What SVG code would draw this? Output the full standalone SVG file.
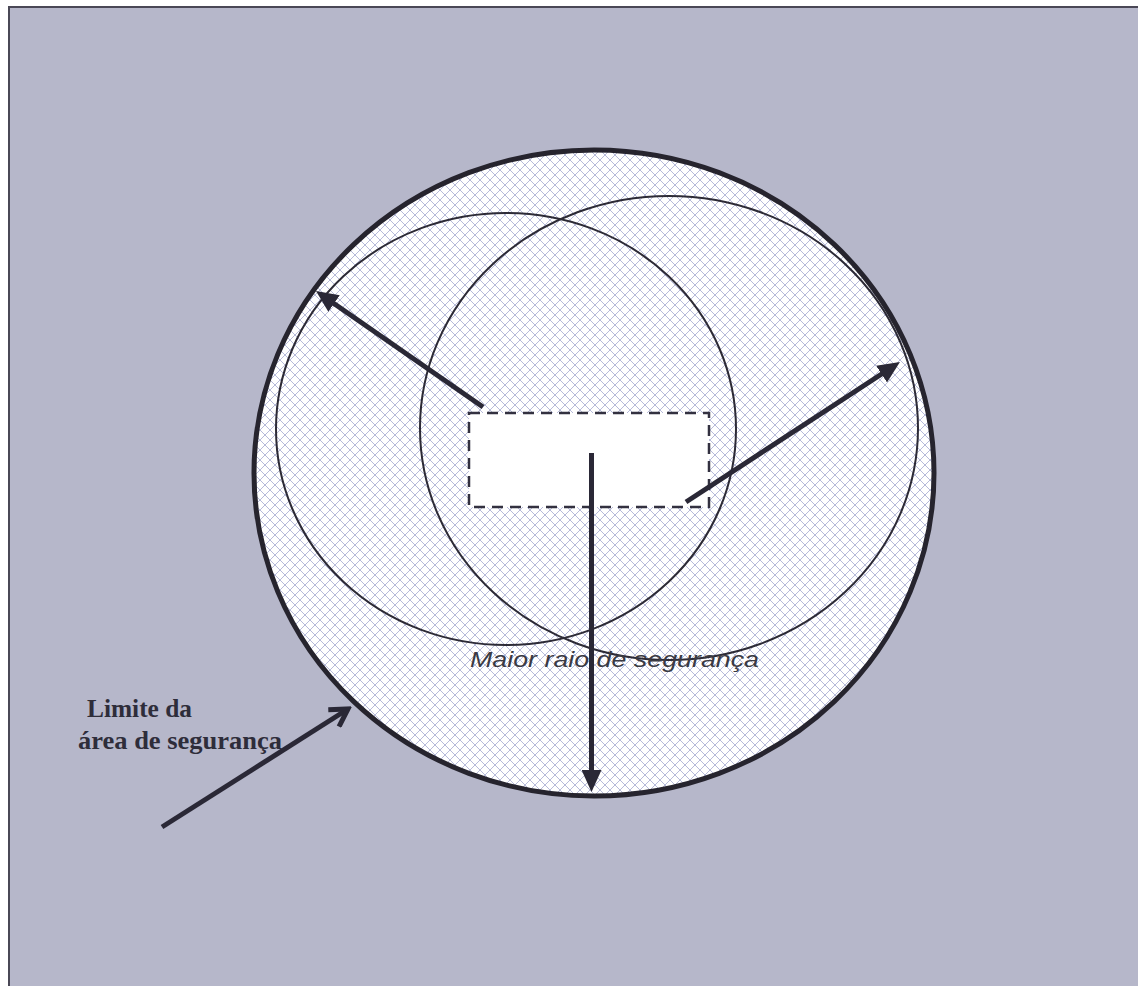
<svg xmlns="http://www.w3.org/2000/svg" width="1138" height="986" viewBox="0 0 1138 986">
  <style>
    .inner { fill: none; stroke: #2c2a36; stroke-width: 2; }
    .arrow { stroke: #2a2836; stroke-width: 5; fill: none; }
    .label { font-family: "Liberation Serif", "Times New Roman", serif; font-weight: bold; font-size: 25px; fill: #2e2d3a; }
    .caption { font-family: "Liberation Sans", Arial, sans-serif; font-style: italic; font-size: 22px; fill: #3a3a44; }
  </style>
  <defs>
    <pattern id="hatch" width="10" height="10" patternUnits="userSpaceOnUse">
      <path d="M0,0 L10,10 M10,0 L0,10" stroke="#aeb2d6" stroke-width="0.9" fill="none"/>
    </pattern>
    <marker id="head" viewBox="0 0 22 20" markerWidth="22" markerHeight="20" markerUnits="userSpaceOnUse" refX="12" refY="10" orient="auto">
      <path d="M0,0 L22,10 L0,20 z" fill="#2a2836"/>
    </marker>
    <marker id="chev" viewBox="0 0 24 24" markerWidth="24" markerHeight="24" markerUnits="userSpaceOnUse" refX="20" refY="12" orient="auto">
      <path d="M3,2 L20,12 L3,22" fill="none" stroke="#2a2836" stroke-width="5"/>
    </marker>
  </defs>

  <rect x="0" y="0" width="1138" height="986" fill="#ffffff"/>
  <rect id="background" x="9" y="7" width="1140" height="990" fill="#b6b7ca" stroke="#4a4856" stroke-width="2"/>

  <g id="safety-area">
    <ellipse cx="594" cy="473" rx="340" ry="323" fill="#ffffff"/>
    <ellipse cx="594" cy="473" rx="340" ry="323" fill="url(#hatch)" stroke="#26242e" stroke-width="5"/>
  </g>

  <g id="circle-left">
    <ellipse class="inner" cx="506" cy="429" rx="230" ry="216"/>
  </g>
  <g id="circle-right">
    <ellipse class="inner" cx="669" cy="428" rx="249" ry="232"/>
  </g>

  <g id="source">
    <rect x="469" y="413" width="240" height="94" fill="#ffffff" stroke="#333140" stroke-width="2.5" stroke-dasharray="11,7"/>
  </g>

  <g id="connectors">
    <line class="arrow" x1="483" y1="407" x2="324.2" y2="296.7" marker-end="url(#head)"/>
    <line class="arrow" x1="686" y1="502" x2="891.6" y2="367.5" marker-end="url(#head)"/>
    <line class="arrow" x1="591.5" y1="453" x2="591.5" y2="782" marker-end="url(#head)"/>
    <line class="arrow" x1="162" y1="827" x2="348" y2="709" marker-end="url(#chev)"/>
  </g>

  <g id="label-limit">
    <text class="label" x="87" y="717" textLength="105" lengthAdjust="spacingAndGlyphs">Limite da</text>
    <text class="label" x="78" y="749" textLength="204" lengthAdjust="spacingAndGlyphs">área de segurança</text>
  </g>

  <g id="label-radius">
    <text class="caption" x="470" y="667" textLength="289" lengthAdjust="spacingAndGlyphs">Maior raio de segurança</text>
  </g>
</svg>
